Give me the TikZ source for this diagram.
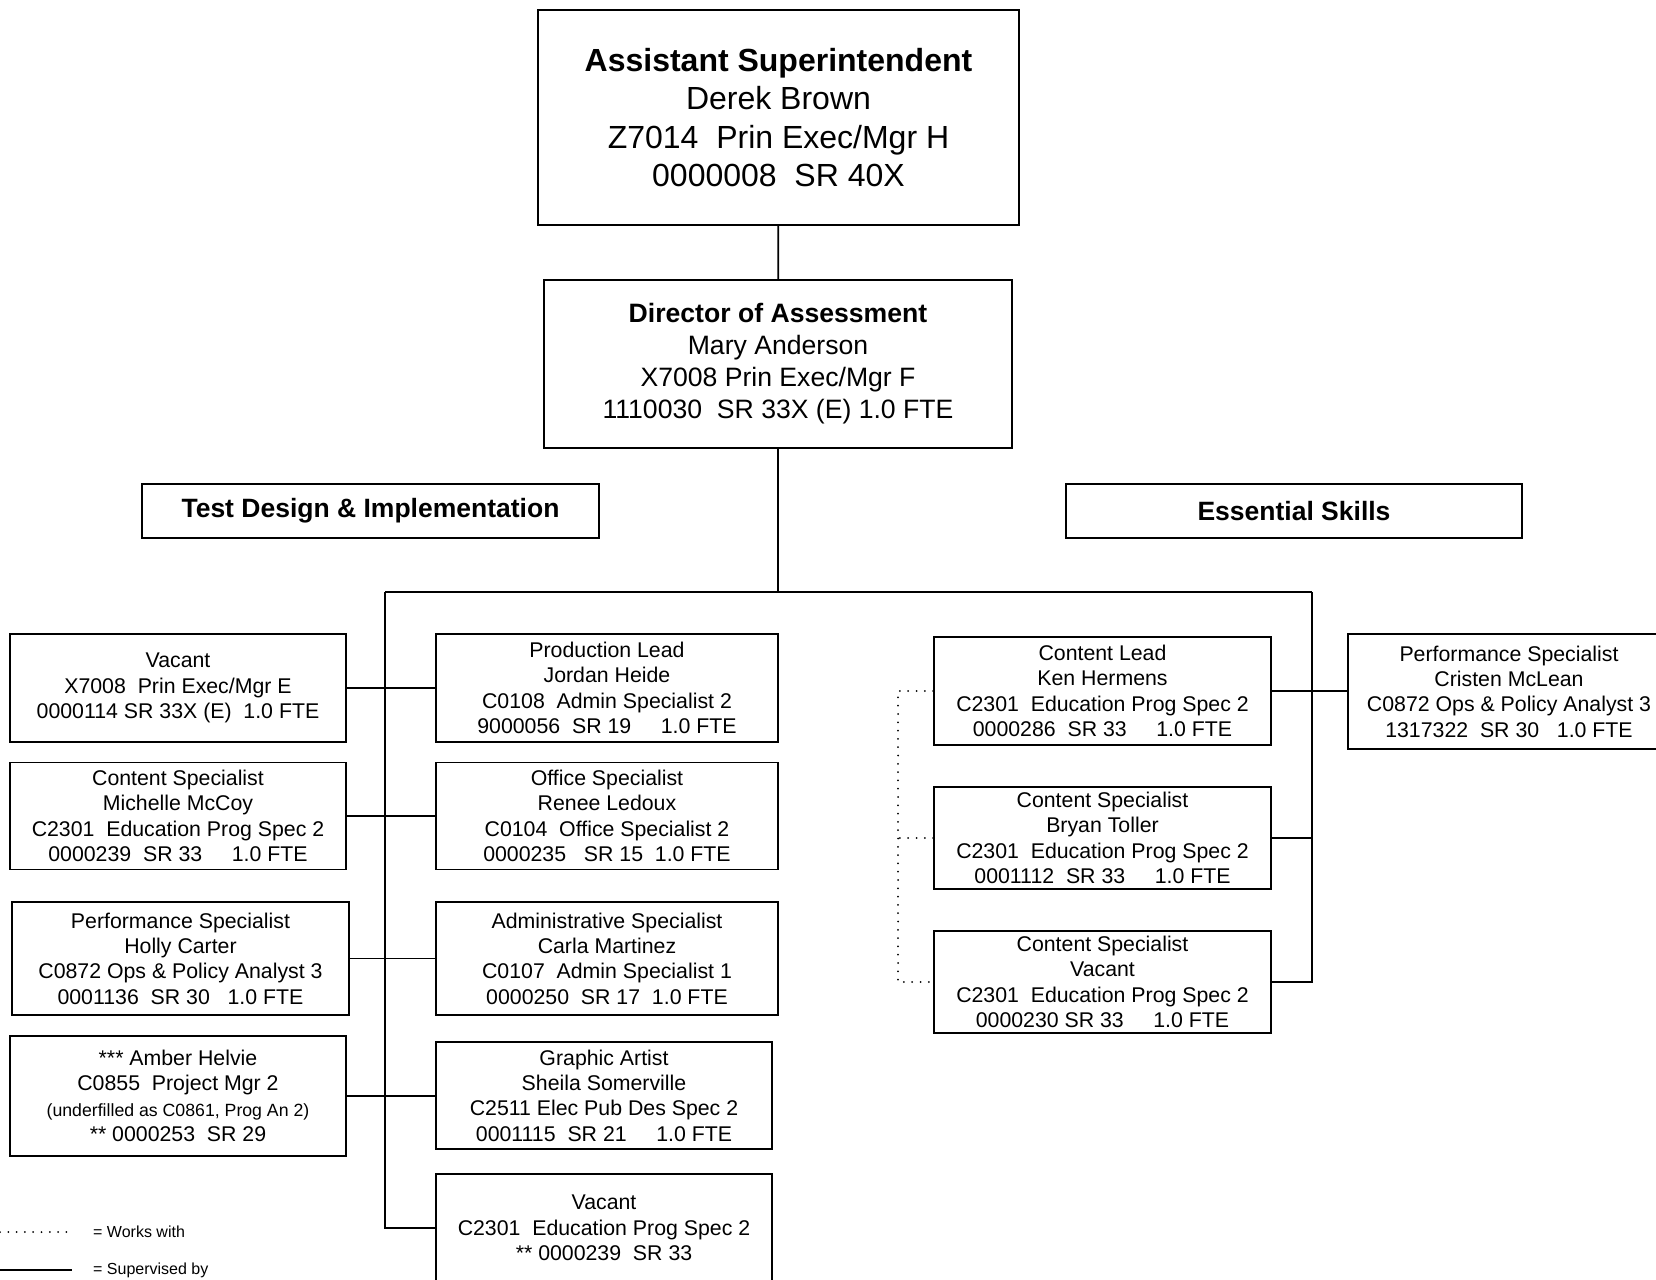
\documentclass[tikz,border=0pt]{standalone}
\usepackage{fontspec}
\setmainfont{Liberation Sans}
\usepackage{tikz}
\usetikzlibrary{positioning}

\tikzset{
  post/.style={draw, line width=1.8pt, align=center, inner sep=0pt,
    font=\fontsize{21.3}{25.3}\selectfont},
  boss/.style={post, font=\fontsize{32}{38.4}\selectfont},
  chief/.style={post, font=\fontsize{26.6}{32}\selectfont},
  section/.style={post, font=\bfseries\fontsize{26.5}{32}\selectfont},
  legendtext/.style={anchor=west, inner sep=0pt, font=\fontsize{16}{19}\selectfont},
  supervised/.style={line width=1.8pt},
  works/.style={line width=2pt, line cap=round, dash pattern=on 0pt off 8.3pt}
}

\begin{document}
\begin{tikzpicture}[x=1pt, y=-1pt]
	\useasboundingbox (0,0) rectangle (1656,1279);

	% heads
	\node[boss, minimum width=481pt, minimum height=215pt] (asup) at (778.5,117.5)
	  {\textbf{Assistant Superintendent}\\Derek Brown\\Z7014~~Prin Exec/Mgr H\\0000008~~SR 40X};
	\node[chief, minimum width=468pt, minimum height=168pt] (dir) at (778,364)
	  {\textbf{Director of Assessment}\\Mary Anderson\\X7008 Prin Exec/Mgr F\\1110030~~SR 33X (E) 1.0 FTE};
	\node[section, minimum width=457pt, minimum height=54pt] (tdi) at (370.5,511) {Test Design \& Implementation};
	\node[section, minimum width=456pt, minimum height=54pt] (ess) at (1294,511) {Essential Skills};

	% test design & implementation
	\begin{scope}[every node/.style={post, minimum width=336pt}]
		\node[minimum height=108pt] (vacE) at (178,688)
		  {Vacant\\X7008~~Prin Exec/Mgr E\\0000114 SR 33X (E)~~1.0 FTE};
		\node[minimum height=107pt] (mccoy) at (178,816)
		  {Content Specialist\\Michelle McCoy\\C2301~~Education Prog Spec 2\\0000239~~SR 33~~~~~1.0 FTE};
		\node[minimum width=337pt, minimum height=113pt] (carter) at (180.5,958.5)
		  {Performance Specialist\\Holly Carter\\C0872 Ops \& Policy Analyst 3\\0001136~~SR 30~~~1.0 FTE};
		\node[minimum height=120pt] (helvie) at (178,1096)
		  {*** Amber Helvie\\C0855~~Project Mgr 2\\{\fontsize{17.7}{25.3}\selectfont (underfilled as C0861, Prog An 2)}\\** 0000253~~SR 29};
		\node[minimum width=342pt, minimum height=108pt] (heide) at (607,688)
		  {Production Lead\\Jordan Heide\\C0108~~Admin Specialist 2\\9000056~~SR 19~~~~~1.0 FTE};
		\node[minimum width=342pt, minimum height=107pt] (ledoux) at (607,816)
		  {Office Specialist\\Renee Ledoux\\C0104~~Office Specialist 2\\0000235~~~SR 15~~1.0 FTE};
		\node[minimum width=342pt, minimum height=113pt] (martinez) at (607,958.5)
		  {Administrative Specialist\\Carla Martinez\\C0107~~Admin Specialist 1\\0000250~~SR 17~~1.0 FTE};
		\node[minimum height=107pt] (somerville) at (604,1095.5)
		  {Graphic Artist\\Sheila Somerville\\C2511 Elec Pub Des Spec 2\\0001115~~SR 21~~~~~1.0 FTE};
		\node[minimum height=108pt] (vacB) at (604,1228)
		  {Vacant\\C2301~~Education Prog Spec 2\\** 0000239~~SR 33};
	\end{scope}

	% essential skills
	\begin{scope}[every node/.style={post, minimum width=337pt}]
		\node[minimum height=108pt] (hermens) at (1102.5,691)
		  {Content Lead\\Ken Hermens\\C2301~~Education Prog Spec 2\\0000286~~SR 33~~~~~1.0 FTE};
		\node[minimum height=102pt] (toller) at (1102.5,838)
		  {Content Specialist\\Bryan Toller\\C2301~~Education Prog Spec 2\\0001112~~SR 33~~~~~1.0 FTE};
		\node[minimum height=102pt] (csvac) at (1102.5,982)
		  {Content Specialist\\Vacant\\C2301~~Education Prog Spec 2\\0000230 SR 33~~~~~1.0 FTE};
		\node[minimum width=322pt, minimum height=115pt] (mclean) at (1509,691.5)
		  {Performance Specialist\\Cristen McLean\\C0872 Ops \& Policy Analyst 3\\1317322~~SR 30~~~1.0 FTE};
	\end{scope}

	\coordinate (busL) at (385,592);
	\coordinate (busR) at (1312,592);
	\coordinate (wk) at (898,691);

	\begin{scope}[every path/.style={supervised}]
		\draw (asup) -- (dir);
		\draw (dir) -- (dir |- busL);
		\draw (busL) -- (busR);
		\draw (busL) |- (vacB.west);
		\draw (busR) |- (csvac.east);
		\foreach \a/\b in {vacE/heide, mccoy/ledoux, carter/martinez, helvie/somerville, hermens/mclean}
		{\draw (\a.east) -- (\a.east -| \b.west);}
		\draw (toller.east) -- (toller.east -| busR);
	\end{scope}

	\draw[works] (hermens.west) -- (wk) |- (csvac.west);
	\draw[works] (toller.west) -- (toller.west -| wk);

	% legend
	\node[legendtext] (lgworks) at (93,1232) {= Works with};
	\node[legendtext] (lgsup) at (93,1270) {= Supervised by};
	\draw[works] (0,1232) -- (72,1232);
	\draw[supervised] (0,1270) -- (72,1270);
\end{tikzpicture}
\end{document}
